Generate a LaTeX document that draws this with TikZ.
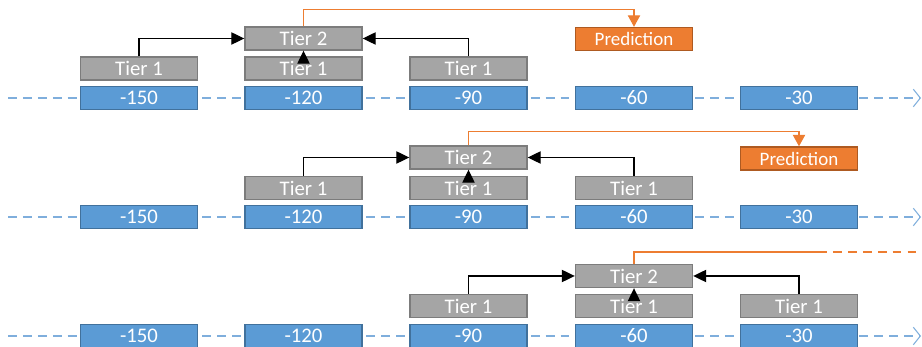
\documentclass[tikz,border=0pt]{standalone}
\usepackage{fontspec}
\setmainfont{Carlito}
\usetikzlibrary{arrows.meta}

\definecolor{stepblue}{HTML}{5B9BD5}
\definecolor{stepblueline}{HTML}{41719C}
\definecolor{tiergray}{HTML}{A5A5A5}
\definecolor{tiergrayline}{HTML}{7C7C7C}
\definecolor{predorange}{HTML}{ED7D31}
\definecolor{predline}{HTML}{AE5A21}
\definecolor{axisblue}{HTML}{7FAEDC}

\begin{document}
\begin{tikzpicture}[
        box/.style={minimum width=2.34cm, minimum height=0.46cm, inner sep=0pt,
                    line width=0.8pt, text=white, font=\fontsize{11.8}{13}\selectfont},
        ts/.style={box, fill=stepblue, draw=stepblueline},
        tier/.style={box, fill=tiergray, draw=tiergrayline},
        pred/.style={box, fill=predorange, draw=predline, font=\fontsize{10.8}{12}\selectfont},
        axis/.style={axisblue, line width=0.6pt, dash pattern=on 5pt off 3.5pt,
                     -{Straight Barb[length=4pt, width=10pt, line width=0.6pt]}},
        link/.style={line width=0.7pt, -{Triangle[length=7.4pt, width=7pt]}},
        plink/.style={predorange, line width=0.6pt, -{Triangle[length=6.5pt, width=7pt]}}
    ]
    \useasboundingbox (0, 0) rectangle (18.44, -6.94);

    % first window
    \coordinate (ax_a_s) at (0.16, -1.96);
    \coordinate (ax_a_e) at (18.42, -1.96);
    \draw[axis] (ax_a_s) -- (ax_a_e);
    \node(ts150_a) at(2.78,  -1.96) [ts] {-150};
    \node(ts120_a) at(6.07,  -1.96) [ts] {-120};
    \node(ts90_a)  at(9.37,  -1.96) [ts] {-90};
    \node(ts60_a)  at(12.68, -1.96) [ts] {-60};
    \node(ts30_a)  at(15.98, -1.96) [ts] {-30};
    \node(t1_a1)   at(2.78,  -1.37) [tier] {Tier 1};
    \node(t1_a2)   at(6.07,  -1.37) [tier] {Tier 1};
    \node(t1_a3)   at(9.37,  -1.37) [tier] {Tier 1};
    \node(t2_a)    at(6.07,  -0.77) [tier] {Tier 2};
    \node(pred_a)  at(12.68, -0.78) [pred] {Prediction};
    \draw[link] (t1_a1.north) |- (t2_a.west);
    \draw[link] (t1_a3.north) |- (t2_a.east);
    \draw[link] (t1_a2.north) -- (t2_a.south);
    \draw[plink] (t2_a.north) -- ++(0, 0.34) -| (pred_a.north);

    % second window
    \coordinate (ax_b_s) at (0.16, -4.34);
    \coordinate (ax_b_e) at (18.42, -4.34);
    \draw[axis] (ax_b_s) -- (ax_b_e);
    \node(ts150_b) at(2.78,  -4.34) [ts] {-150};
    \node(ts120_b) at(6.07,  -4.34) [ts] {-120};
    \node(ts90_b)  at(9.37,  -4.34) [ts] {-90};
    \node(ts60_b)  at(12.68, -4.34) [ts] {-60};
    \node(ts30_b)  at(15.98, -4.34) [ts] {-30};
    \node(t1_b1)   at(6.07,  -3.76) [tier] {Tier 1};
    \node(t1_b2)   at(9.37,  -3.76) [tier] {Tier 1};
    \node(t1_b3)   at(12.68, -3.76) [tier] {Tier 1};
    \node(t2_b)    at(9.37,  -3.15) [tier] {Tier 2};
    \node(pred_b)  at(15.98, -3.17) [pred] {Prediction};
    \draw[link] (t1_b1.north) |- (t2_b.west);
    \draw[link] (t1_b3.north) |- (t2_b.east);
    \draw[link] (t1_b2.north) -- (t2_b.south);
    \draw[plink] (t2_b.north) -- ++(0, 0.28) -| (pred_b.north);

    % third window
    \coordinate (ax_c_s) at (0.16, -6.72);
    \coordinate (ax_c_e) at (18.42, -6.72);
    \draw[axis] (ax_c_s) -- (ax_c_e);
    \node(ts150_c) at(2.78,  -6.72) [ts] {-150};
    \node(ts120_c) at(6.07,  -6.72) [ts] {-120};
    \node(ts90_c)  at(9.37,  -6.72) [ts] {-90};
    \node(ts60_c)  at(12.68, -6.72) [ts] {-60};
    \node(ts30_c)  at(15.98, -6.72) [ts] {-30};
    \node(t1_c1)   at(9.37,  -6.12) [tier] {Tier 1};
    \node(t1_c2)   at(12.68, -6.12) [tier] {Tier 1};
    \node(t1_c3)   at(15.98, -6.12) [tier] {Tier 1};
    \node(t2_c)    at(12.68, -5.52) [tier] {Tier 2};
    \draw[link] (t1_c1.north) |- (t2_c.west);
    \draw[link] (t1_c3.north) |- (t2_c.east);
    \draw[link] (t1_c2.north) -- (t2_c.south);
    \coordinate (fade_c) at (16.36, -5.04);
    \coordinate (out_c)  at (18.44, -5.04);
    \draw[predorange, line width=0.6pt] (t2_c.north) |- (fade_c);
    \draw[predorange, line width=0.6pt, dash pattern=on 5pt off 3.5pt] (fade_c) -- (out_c);
\end{tikzpicture}
\end{document}
